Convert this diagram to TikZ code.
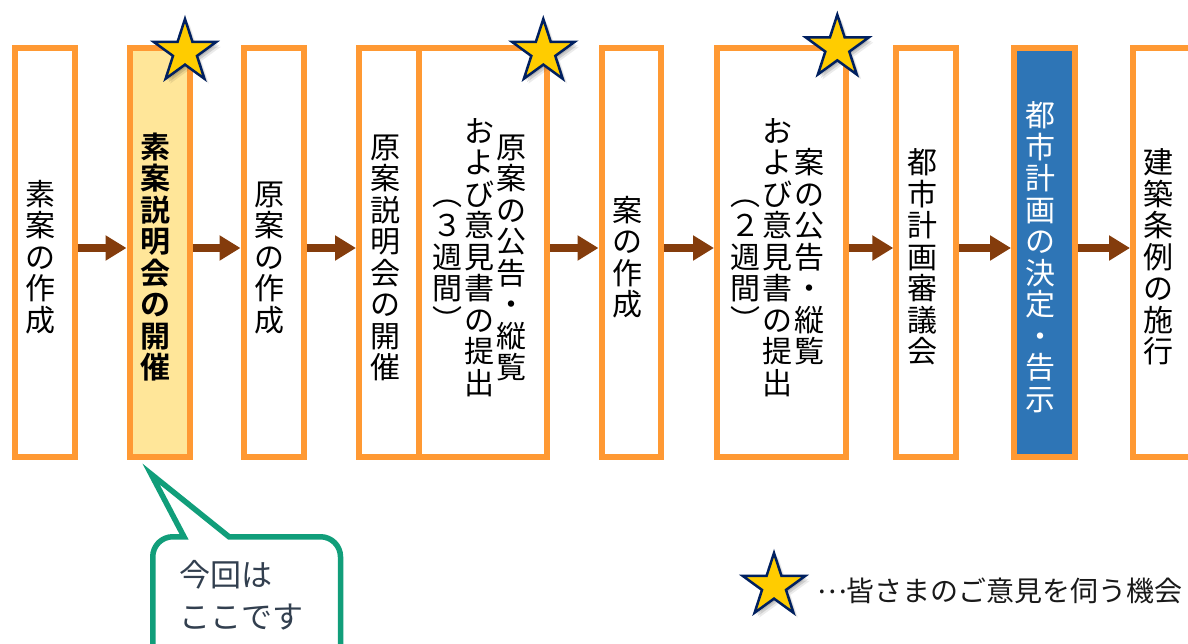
\documentclass[tikz,border=0pt]{standalone}
\usepackage{fontspec}
\newfontfamily\jp{Noto Sans CJK JP}[BoldFont={Noto Sans CJK JP Bold}]
\usetikzlibrary{arrows.meta,shapes.geometric,shadows}
\definecolor{boxor}{RGB}{255,153,51}
\definecolor{boxyel}{RGB}{255,230,153}
\definecolor{boxblue}{RGB}{46,117,182}
\definecolor{arrbrown}{RGB}{132,60,12}
\definecolor{staryel}{RGB}{255,204,0}
\definecolor{starnavy}{RGB}{0,32,96}
\definecolor{callgreen}{RGB}{17,158,122}
\definecolor{calltext}{RGB}{50,63,79}
\makeatletter
\newcommand\vstack[1]{\vbox{\offinterlineskip\vst@ck#1\relax}}
\def\vst@ck#1{\ifx\relax#1\else\hbox to 32pt{\hss\vrule height 27.15pt depth 4.35pt width 0pt\relax#1\hss}\expandafter\vst@ck\fi}
\makeatother
\tikzset{
  stepbox/.style={draw=boxor, line width=6pt, fill=white, inner sep=0pt, minimum height=409pt},
  vtext/.style={inner sep=0pt, font=\jp\fontsize{30}{31.5}\selectfont, text=black},
  flow/.style={draw=arrbrown, line width=8pt, -{Triangle[length=21pt,width=24pt]}},
  starmark/.style={star, star points=5, star point ratio=2.618, minimum size=66pt, inner sep=0pt,
    draw=starnavy, fill=staryel, line width=2.5pt,
    drop shadow={shadow xshift=1.5pt, shadow yshift=-2pt, fill=black, opacity=.12},
    drop shadow={shadow xshift=3pt, shadow yshift=-3.5pt, fill=black, opacity=.12},
    drop shadow={shadow xshift=4.5pt, shadow yshift=-5pt, fill=black, opacity=.08}},
  calltxt/.style={inner sep=0pt, anchor=base west, font=\jp\fontsize{31}{36}\selectfont, text=calltext},
}
\begin{document}
\begin{tikzpicture}[x=1pt,y=-1pt]
\useasboundingbox (0,0) rectangle (1188,644);
\fill[white] (0,0) rectangle (1188,644);
% boxes
\node[stepbox, minimum width=60pt] (b1) at (44.5,252.5) {};
\node[stepbox, minimum width=60pt, fill=boxyel] (b2) at (159.5,252.5) {};
\node[stepbox, minimum width=60pt] (b3) at (273.5,252.5) {};
\node[stepbox, minimum width=60pt] (b4) at (389,252.5) {};
\node[stepbox, minimum width=128pt] (b5) at (483,252.5) {};
\node[stepbox, minimum width=59.5pt] (b6) at (631.25,252.5) {};
\node[stepbox, minimum width=128.5pt] (b7) at (781.25,252.5) {};
\node[stepbox, minimum width=60pt] (b8) at (926.3,252.5) {};
\node[stepbox, minimum width=60.5pt, fill=boxblue] (b9) at (1044.25,252.5) {};
\node[stepbox, minimum width=60pt] (b10) at (1163,252.5) {};
% texts
\node[vtext] (t1) at (40.5,257) {\vstack{素案の作成}};
\node[vtext, font=\jp\bfseries\fontsize{30}{31.5}\selectfont] (t2) at (155.5,257) {\vstack{素案説明会の開催}};
\node[vtext] (t3) at (269.5,257) {\vstack{原案の作成}};
\node[vtext] (t4) at (385,257) {\vstack{原案説明会の開催}};
\node[vtext] (t5a) at (511,257) {\vstack{原案の公告・縦覧}};
\node[vtext] (t5b) at (479,257) {\vstack{および意見書の提出}};
\node[vtext] (t5c) at (447,257) {\vstack{︵３週間︶}};
\node[vtext] (t6) at (627,257) {\vstack{案の作成}};
\node[vtext] (t7a) at (809,257) {\vstack{案の公告・縦覧}};
\node[vtext] (t7b) at (777,257) {\vstack{および意見書の提出}};
\node[vtext] (t7c) at (745,257) {\vstack{︵２週間︶}};
\node[vtext] (t8) at (922,257) {\vstack{都市計画審議会}};
\node[vtext, text=white] (t9) at (1040,257) {\vstack{都市計画の決定・告示}};
\node[vtext] (t10) at (1158,257) {\vstack{建築条例の施行}};
% arrows
\coordinate (ay) at (0,248);
\draw[flow] (b1.east |- ay) -- (b2.west |- ay);
\draw[flow] (b2.east |- ay) -- (b3.west |- ay);
\draw[flow] (b3.east |- ay) -- (b4.west |- ay);
\draw[flow] (b5.east |- ay) -- (b6.west |- ay);
\draw[flow] (b6.east |- ay) -- (b7.west |- ay);
\draw[flow] (b7.east |- ay) -- (b8.west |- ay);
\draw[flow] (b8.east |- ay) -- (b9.west |- ay);
\draw[flow] (b9.east |- ay) -- (b10.west |- ay);
% stars
\node[starmark] (s1) at (185,52) {};
\node[starmark] (s2) at (543.3,52) {};
\node[starmark] (s3) at (837.3,47.7) {};
\node[starmark] (s4) at (774,586) {};
% callout
\draw[callgreen, line width=5.5pt, fill=white, line join=miter]
  (172.75,536.75) -- (184,536.75) -- (151,474) -- (229,536.75) -- (320.5,536.75)
  .. controls (331.5,536.75) and (340.5,545.75) .. (340.5,556.75) -- (340.5,700) -- (152.75,700)
  -- (152.75,556.75) .. controls (152.75,545.75) and (161.75,536.75) .. (172.75,536.75) -- cycle;
\node[calltxt] (ct1) at (179,586) {今回は};
\node[calltxt] (ct2) at (179,628) {ここです};
% legend
\node[inner sep=0pt, anchor=base west, font=\jp\fontsize{28}{34}\selectfont, text=black!90] (lg) at (817,601) {\raisebox{8pt}{…}皆さまのご意見を伺う機会};
\end{tikzpicture}
\end{document}
